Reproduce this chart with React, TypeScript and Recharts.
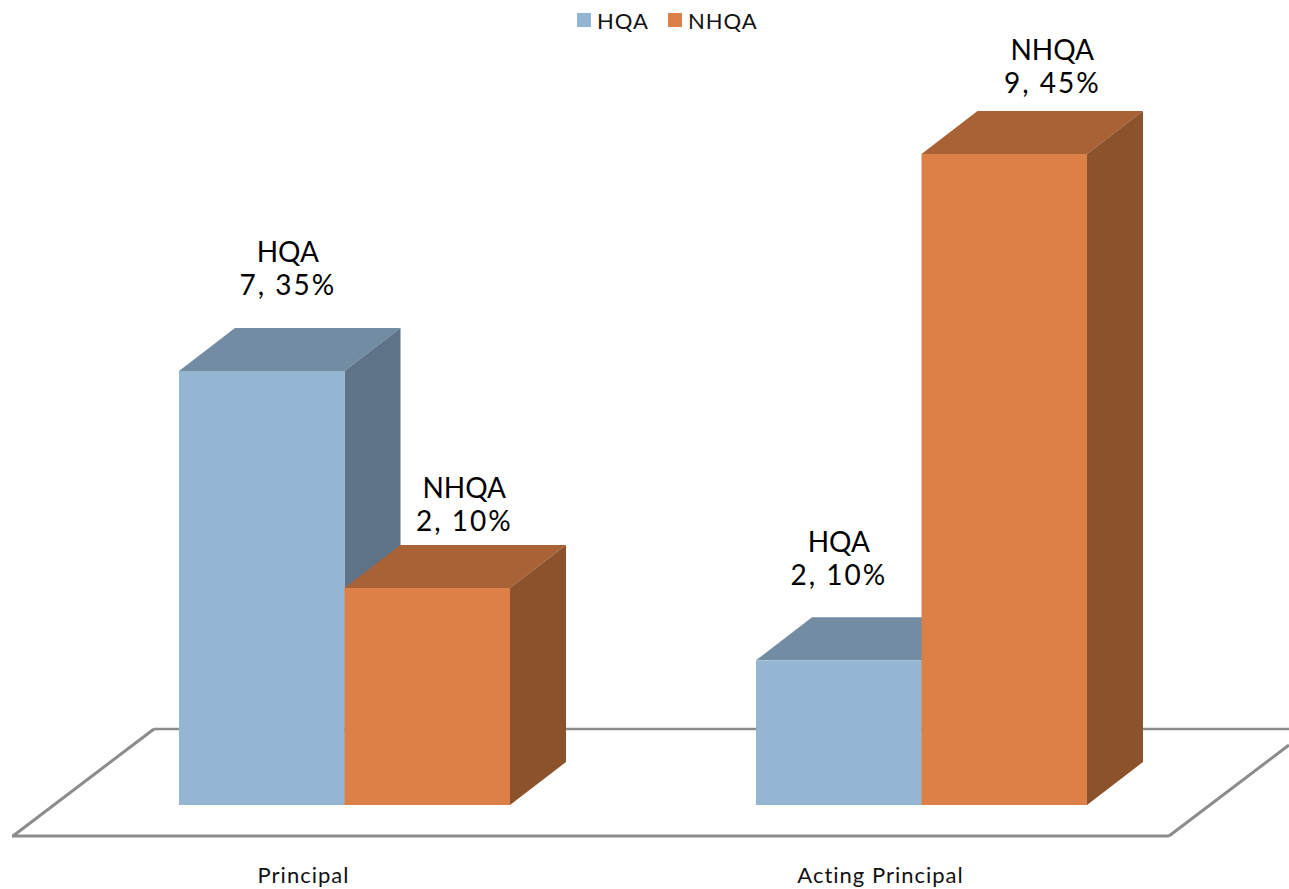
import React from 'react';
import { BarChart, Bar, XAxis, YAxis, Legend, LabelList, usePlotArea } from 'recharts';

const categories = ['Principal', 'Acting Principal'];
// bar heights as drawn; they differ from the printed labels in the source picture
const hqaValues = [6, 2];
const nhqaValues = [3, 9];
const hqaLabels = ['7, 35%', '2, 10%'];
const nhqaLabels = ['2, 10%', '9, 45%'];

const data = categories.map((name, i) => ({
    name,
    HQA: hqaValues[i],
    NHQA: nhqaValues[i],
}));

const FONT = 'Lato, "Open Sans", sans-serif';
const DEPTH_X = 56;
const DEPTH_Y = 43;

// label placement relative to the bar: [shift right, lift above the front top edge]
const hqaLabelPos = [[26, 76], [0, 75]];
const nhqaLabelPos = [[37, 57], [48, 61]];

const Box3D = (colors: { top: string; side: string }) => (props: any) => {
    const { x, y, width, height, fill } = props;
    const r = x + width;
    const b = y + height;
    return (
        <g>
            <polygon
                points={`${x},${y} ${x + DEPTH_X},${y - DEPTH_Y} ${r + DEPTH_X},${y - DEPTH_Y} ${r},${y}`}
                fill={colors.top}
            />
            <polygon
                points={`${r},${y} ${r + DEPTH_X},${y - DEPTH_Y} ${r + DEPTH_X},${b - DEPTH_Y} ${r},${b}`}
                fill={colors.side}
            />
            <rect x={x} y={y} width={width} height={height} fill={fill} />
        </g>
    );
};

const Floor = () => {
    const plot = usePlotArea();
    if (!plot) return null;
    const bottom = plot.y + plot.height;
    const left = plot.x;
    const right = plot.x + plot.width;
    const stroke = '#8c8c8c';
    return (
        <g fill="none" stroke={stroke}>
            <line x1={left + 98} y1={bottom - 76} x2={right + 79} y2={bottom - 76} strokeWidth={2.5} />
            <line x1={left - 43} y1={bottom + 31} x2={left + 98} y2={bottom - 76} strokeWidth={3} />
            <line x1={right - 41} y1={bottom + 31} x2={right + 79} y2={bottom - 60} strokeWidth={3} />
            <line x1={left - 44} y1={bottom + 31} x2={right - 41} y2={bottom + 31} strokeWidth={3} />
        </g>
    );
};

const AxisTick = (props: any) => {
    const { x, y, payload } = props;
    return (
        <text x={x - 41} y={y + 70} textAnchor="middle" fontFamily={FONT} fontSize={22} letterSpacing={1} fill="#111">
            {payload.value}
        </text>
    );
};

const barLabel = (name: string, texts: string[], pos: number[][]) => (props: any) => {
    const { x, y, width, index } = props;
    const cx = x + width / 2 + pos[index][0];
    const base = y - pos[index][1];
    return (
        <text x={cx} textAnchor="middle" fontFamily={FONT} fontSize={28} fill="#000">
            <tspan x={cx} y={base - 33}>{name}</tspan>
            <tspan x={cx} y={base} letterSpacing={2}>{texts[index]}</tspan>
        </text>
    );
};

const LegendRow = ({ payload }: any) => (
    <div style={{ display: 'flex', fontFamily: FONT, fontSize: 22, color: '#111', height: 30 }}>
        {payload.map((item: any) => (
            <div key={item.value} style={{ display: 'flex', alignItems: 'center', marginRight: 19 }}>
                <span style={{ width: 14, height: 14, background: item.color, marginRight: 6 }} />
                <span style={{ letterSpacing: 1 }}>{item.value}</span>
            </div>
        ))}
    </div>
);

const App = () => {
    return (
        <div style={{ position: 'absolute', left: 0, top: 0 }}>
            <BarChart
                width={1289}
                height={889}
                data={data}
                barGap={0}
                barSize={165.5}
                margin={{ top: 124, right: 79, bottom: 0, left: 56 }}
            >
                <Floor />
                <XAxis dataKey="name" height={84} axisLine={false} tickLine={false} tick={<AxisTick />} interval={0} />
                <YAxis hide domain={[0, 9]} />
                <Legend
                    verticalAlign="top"
                    content={<LegendRow />}
                    wrapperStyle={{ left: 577, top: 5, width: 300, height: 30 }}
                />
                <Bar
                    dataKey="HQA"
                    fill="#95b6d3"
                    isAnimationActive={false}
                    shape={Box3D({ top: '#728ca3', side: '#5f7388' })}
                >
                    <LabelList dataKey="HQA" content={barLabel('HQA', hqaLabels, hqaLabelPos)} />
                </Bar>
                <Bar
                    dataKey="NHQA"
                    fill="#dd8047"
                    isAnimationActive={false}
                    shape={Box3D({ top: '#a86235', side: '#8c522b' })}
                >
                    <LabelList dataKey="NHQA" content={barLabel('NHQA', nhqaLabels, nhqaLabelPos)} />
                </Bar>
            </BarChart>
        </div>
    );
};

export default App;
